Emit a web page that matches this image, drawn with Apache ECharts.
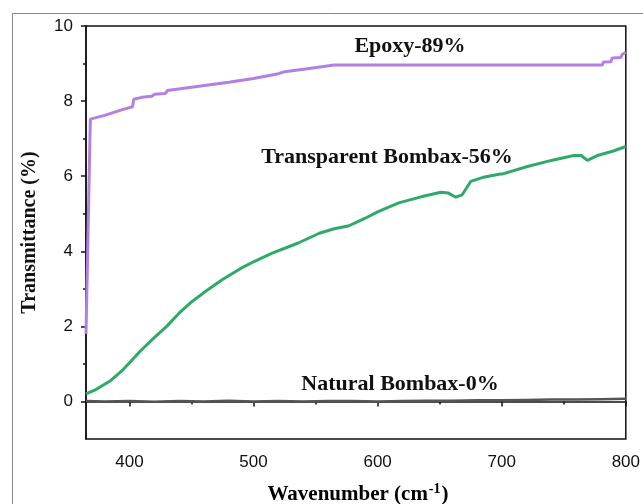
<!DOCTYPE html>
<html>
<head>
<meta charset="utf-8">
<script src="https://cdn.jsdelivr.net/npm/echarts@6/dist/echarts.min.js"></script>
<style>
html,body{margin:0;padding:0;background:#fff;}
#chart{width:643px;height:504px;}
</style>
</head>
<body>
<div id="chart"></div>
<script>
var xTicks = [400, 500, 600, 700, 800];
var xMinorTicks = [450, 550, 650, 750];
var yTicks = [0, 2, 4, 6, 8, 10];
var yMinorTicks = [1, 3, 5, 7, 9];

var epoxyX = [365, 368.5, 380, 395, 402.5, 403.5, 410, 418, 420, 429, 430.5, 450, 480, 500, 520, 525, 545, 565, 600, 650, 700, 750, 781, 782, 788, 789, 796, 797, 800];
var epoxyY = [1.8, 7.52, 7.62, 7.78, 7.85, 8.05, 8.1, 8.13, 8.18, 8.2, 8.28, 8.37, 8.5, 8.6, 8.73, 8.78, 8.87, 8.96, 8.96, 8.96, 8.96, 8.96, 8.96, 9.04, 9.05, 9.15, 9.16, 9.24, 9.3];

var transX = [365, 372, 385, 395, 409, 420, 430, 440, 450, 460, 475, 490, 500, 515, 536, 553, 565, 577, 590, 600, 617, 635, 651, 657, 663, 668, 675, 685, 699, 700, 701, 720, 740, 758, 764, 769, 777, 790, 800];
var transY = [0.2, 0.3, 0.56, 0.85, 1.35, 1.7, 2.0, 2.35, 2.65, 2.9, 3.25, 3.55, 3.72, 3.95, 4.22, 4.48, 4.6, 4.68, 4.88, 5.05, 5.29, 5.45, 5.57, 5.55, 5.44, 5.5, 5.86, 5.97, 6.06, 6.02, 6.06, 6.25, 6.42, 6.55, 6.55, 6.42, 6.55, 6.67, 6.79];

var naturalX = [365, 380, 400, 420, 440, 460, 480, 500, 520, 540, 560, 580, 600, 620, 640, 660, 680, 700, 720, 740, 760, 780, 800];
var naturalY = [0.01, 0, 0.01, -0.01, 0.01, 0, 0.02, 0, 0.01, 0, 0.01, 0.01, 0, 0.01, 0.02, 0.02, 0.03, 0.03, 0.04, 0.05, 0.05, 0.06, 0.07];

function pairs(xs, ys){
	var out = [];
	for(var i=0;i<xs.length;i++){
		out.push([xs[i], ys[i]]);
	}
	return out;
}

var chart = echarts.init(document.getElementById('chart'));
var serif = '"Liberation Serif", "Times New Roman", serif';
var sans = '"Liberation Sans", Arial, sans-serif';

var option = {
	animation: false,
	grid: {left: 86, right: 13, top: 26, bottom: 65, show: true, borderColor: '#111', borderWidth: 1.5},
	xAxis: [{
		type: 'value', min: 365, max: 800,
		axisLine: {show: true, lineStyle: {color: '#111', width: 1.5}},
		axisTick: {show: true, length: 5, customValues: xTicks, lineStyle: {color: '#111', width: 1.5}},
		axisLabel: {customValues: xTicks, fontFamily: sans, fontSize: 17, color: '#111', margin: 15},
		splitLine: {show: false}
	}, {
		type: 'value', min: 365, max: 800, position: 'bottom',
		axisLine: {show: false},
		axisTick: {show: true, length: 3, customValues: xMinorTicks, lineStyle: {color: '#111', width: 1.5}},
		axisLabel: {show: false},
		splitLine: {show: false}
	}],
	yAxis: [{
		type: 'value', min: -1, max: 10,
		name: 'Transmittance (%)',
		nameLocation: 'middle', nameGap: 46,
		nameTextStyle: {fontFamily: serif, fontWeight: 'bold', fontSize: 20, color: '#111'},
		axisLine: {show: true, lineStyle: {color: '#111', width: 1.5}},
		axisTick: {show: true, length: 5, customValues: yTicks, lineStyle: {color: '#111', width: 1.5}},
		axisLabel: {customValues: yTicks, fontFamily: sans, fontSize: 17, color: '#111', margin: 13},
		splitLine: {show: false}
	}, {
		type: 'value', min: -1, max: 10, position: 'left',
		axisLine: {show: false},
		axisTick: {show: true, length: 3, customValues: yMinorTicks, lineStyle: {color: '#111', width: 1.5}},
		axisLabel: {show: false},
		splitLine: {show: false}
	}],
	series: [{
		name: 'Natural Bombax', type: 'line', showSymbol: false,
		data: pairs(naturalX, naturalY),
		lineStyle: {color: '#555', width: 2.5}
	}, {
		name: 'Transparent Bombax', type: 'line', showSymbol: false,
		data: pairs(transX, transY),
		lineStyle: {color: '#2eaa68', width: 3}
	}, {
		name: 'Epoxy', type: 'line', showSymbol: false,
		data: pairs(epoxyX, epoxyY),
		lineStyle: {color: '#b27fe3', width: 3}
	}],
	graphic: [
		{type: 'rect', shape: {x: 12.5, y: 13.5, width: 700, height: 600}, style: {fill: 'none', stroke: '#888', lineWidth: 1}, silent: true},
		{type: 'text', x: 410, y: 46, style: {text: 'Epoxy-89%', font: 'bold 22px ' + serif, fill: '#111', align: 'center', verticalAlign: 'middle'}},
		{type: 'text', x: 387, y: 157, style: {text: 'Transparent Bombax-56%', font: 'bold 22px ' + serif, fill: '#111', align: 'center', verticalAlign: 'middle'}},
		{type: 'text', x: 400, y: 384, style: {text: 'Natural Bombax-0%', font: 'bold 22px ' + serif, fill: '#111', align: 'center', verticalAlign: 'middle'}},
		{type: 'text', x: 358, y: 495, style: {
			text: '{a|Wavenumber (cm}{s|-1}{a|)}',
			align: 'center', verticalAlign: 'middle',
			rich: {
				a: {fontFamily: serif, fontWeight: 'bold', fontSize: 21, color: '#111'},
				s: {fontFamily: serif, fontWeight: 'bold', fontSize: 14, color: '#111', padding: [0, 1, 12, 1]}
			}
		}}
	]
};
chart.setOption(option);
</script>
</body>
</html>
